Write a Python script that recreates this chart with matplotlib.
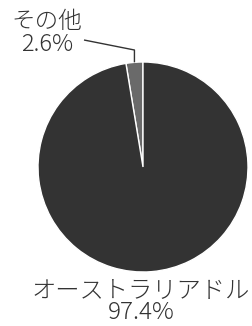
import numpy as np
import matplotlib.pyplot as plt

plt.rcParams['font.family'] = ['Noto Sans CJK JP', 'DejaVu Sans']

labels = ['その他', 'オーストラリアドル']
shares = [2.6, 97.4]
colors = ['#6a6a6a', '#333333']

W, H = 253, 326
cx, cy, R = 143, 167, 105  # pie centre and radius in pixels

fig = plt.figure(figsize=(W / 100, H / 100), dpi=100)
ax = fig.add_axes([0, 0, 1, 1])

wedges, _ = ax.pie(shares, colors=colors, startangle=90, counterclock=True,
                   radius=1.0, wedgeprops=dict(edgecolor='white', linewidth=1.0))
ax.set_aspect('auto')
ax.set_xlim(-cx / R, (W - cx) / R)
ax.set_ylim(-(H - cy) / R, cy / R)
ax.axis('off')

def px(x, y):
    return (x - cx) / R, (cy - y) / R

txt = dict(ha='center', va='center', multialignment='center',
           color='#333333', fontweight='light')

# small slice label with leader line
w = wedges[0]
mid = np.deg2rad((w.theta1 + w.theta2) / 2)
ex, ey = np.cos(mid), np.sin(mid)
kx, ky = px(0, 50)
sx, sy = px(84, 40)
ax.plot([sx, ex, ex], [sy, ky, ey], color='#333333', lw=1.0, solid_capstyle='butt')
tx, ty = px(47, 33)
ax.text(tx, ty, f'{labels[0]}\n{shares[0]}%', fontsize=17, linespacing=0.9, **txt)

# large slice label
tx, ty = px(141, 302)
ax.text(tx, ty, f'{labels[1]}\n{shares[1]}%', fontsize=17.5, linespacing=0.78, **txt)

fig.savefig('out.png', dpi=100)
